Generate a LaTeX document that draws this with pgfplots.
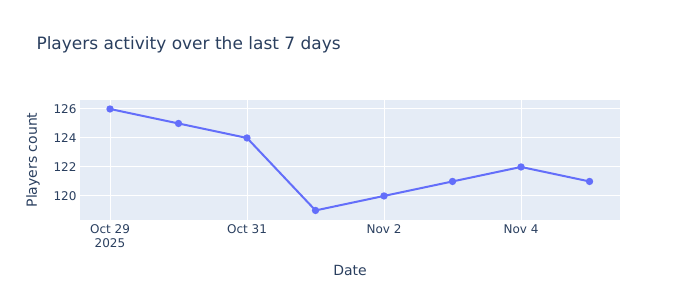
\documentclass[border=0pt]{standalone}
\usepackage{pgfplots}
\pgfplotsset{compat=1.18}
\usepackage{fontspec}
\setmainfont{DejaVu Sans}
\definecolor{bgc}{HTML}{E5ECF6}
\definecolor{linec}{HTML}{636EFA}
\definecolor{txt}{HTML}{2A3F5F}
\begin{document}
\begin{tikzpicture}
\useasboundingbox (0bp,0bp) rectangle (700bp,300bp);
\node[anchor=west,text=txt,font=\fontsize{17bp}{20bp}\selectfont] at (33bp,255bp) {Players activity over the last 7 days};
\begin{axis}[
  at={(80bp,80bp)}, anchor=south west,
  scale only axis, width=540bp, height=120bp,
  xmin=-0.438, xmax=7.445, ymin=118.34, ymax=126.62,
  axis background/.style={fill=bgc},
  axis line style={draw=none},
  major tick length=0pt,
  grid=major, major grid style={white, line width=1bp},
  xtick={0,2,4,6},
  xticklabels={Oct 29\\2025, Oct 31, Nov 2, Nov 4},
  xticklabel style={align=center, text=txt, font=\fontsize{12bp}{14.5bp}\selectfont, yshift=-1bp},
  ytick={120,122,124,126},
  yticklabel style={text=txt, font=\fontsize{12bp}{14bp}\selectfont},
  /pgf/number format/assume math mode=true,
  xlabel={Date}, ylabel={Players count},
  xlabel style={at={(rel axis cs:0.5,-0.4167)}, anchor=center, text=txt, font=\fontsize{14bp}{16bp}\selectfont},
  ylabel style={at={(rel axis cs:-0.087,0.5)}, anchor=center, rotate=0, text=txt, font=\fontsize{14bp}{16bp}\selectfont},
]
\addplot[color=linec, line width=2bp, mark=*, mark size=2.6bp, mark options={fill=linec, draw=linec}]
  coordinates {(0,126) (1,125) (2,124) (3,119) (4,120) (5,121) (6,122) (7,121)};
\end{axis}
\end{tikzpicture}
\end{document}
